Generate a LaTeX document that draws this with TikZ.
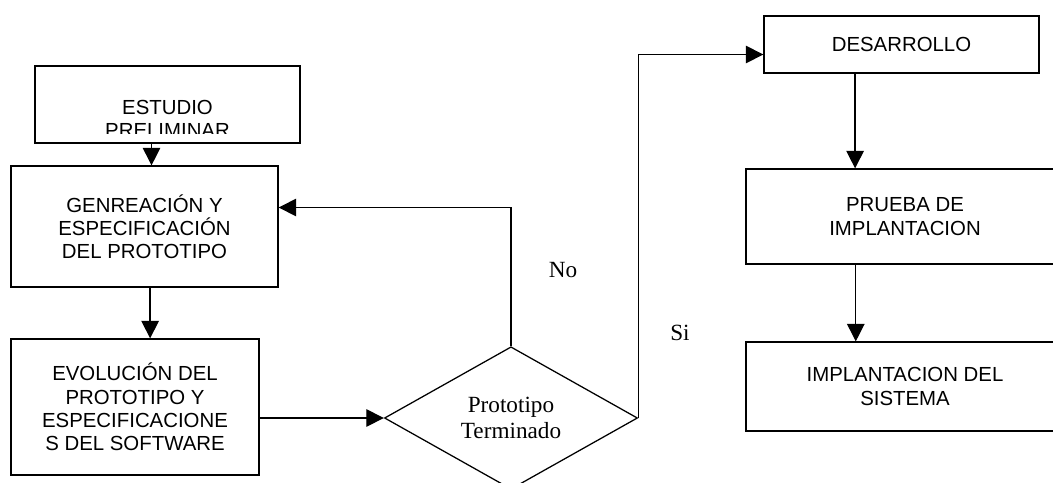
\documentclass[tikz,border=0pt]{standalone}
\usepackage{fontspec}
\setmainfont{Liberation Serif}
\setsansfont{Liberation Sans}
\usepackage{tikz}
\usetikzlibrary{arrows.meta, positioning, calc, shapes.geometric}
\tikzset{
	procbox/.style={draw, line width=0.9pt, align=center, inner sep=0pt, font=\sffamily\fontsize{14.5}{16.5}\selectfont},
	boxtext/.style={align=center, inner sep=0pt, font=\sffamily\fontsize{14.5}{16.5}\selectfont},
	decbox/.style={draw, diamond, line width=0.9pt, align=center, inner sep=0pt, font=\fontsize{16.5}{19}\selectfont},
	flecha/.style={line width=0.9pt, -{Triangle[width=12.5pt, length=12.5pt]}},
	etiq/.style={font=\fontsize{16.5}{19}\selectfont, inner sep=0pt},
}

\begin{document}
\begin{tikzpicture}[x=0.025cm, y=-0.025cm]
	\useasboundingbox (0,0) rectangle (1053,482);
	\clip (0,0) rectangle (1053,482);
	% Left column
	\node[procbox, minimum width=6.625cm, minimum height=1.925cm] (estudio) at (167.5,104.5) {};
	\begin{scope}
		\clip (estudio.north west) rectangle ([yshift=7pt]estudio.south east);
		\node[boxtext] (estudiotxt) at (167.5,119) {ESTUDIO\\PRELIMINAR};
	\end{scope}
	\node[procbox, minimum width=6.675cm, minimum height=3.025cm] (gen) at (144.5,226.5) {GENREACIÓN Y\\ESPECIFICACIÓN\\DEL PROTOTIPO};
	\node[procbox, minimum width=6.2cm, minimum height=3.4cm] (evol) at (135,407) {EVOLUCIÓN DEL\\PROTOTIPO Y\\ESPECIFICACIONE\\S DEL SOFTWARE};
	% Decision
	\node[decbox, minimum width=6.325cm, minimum height=3.3cm] (dec) at (511,418) {Prototipo\\Terminado};
	% Right column
	\node[procbox, minimum width=6.875cm, minimum height=1.425cm] (des) at (901.5,44.5) {DESARROLLO};
	\node[procbox, minimum width=7.95cm, minimum height=2.375cm] (prueba) at (905,216.5) {PRUEBA DE\\IMPLANTACION};
	\node[procbox, minimum width=7.95cm, minimum height=2.225cm] (impl) at (905,386.5) {IMPLANTACION DEL\\SISTEMA};
	% Arrows
	\draw[flecha] ([xshift=5pt]gen.north |- estudio.south) -- ([xshift=5pt]gen.north);
	\draw[flecha] ([xshift=4pt]gen.south) -- ([xshift=4pt]gen.south |- evol.north);
	\draw[flecha] (evol.east |- dec.west) -- (dec.west);
	\draw[flecha] (dec.north) |- ($(gen.east)+(0,-19)$);
	\draw[flecha] (dec.east) |- ($(des.west)+(0,10)$);
	\draw[flecha] ([xshift=-33pt]des.south) -- ([xshift=-33pt]des.south |- prueba.north);
	\draw[flecha] ([xshift=-35pt]prueba.south) -- ([xshift=-35pt]prueba.south |- impl.north);
	% Labels
	\node[etiq] (no) at (563,270) {No};
	\node[etiq] (si) at (680,333) {Si};
\end{tikzpicture}
\end{document}
